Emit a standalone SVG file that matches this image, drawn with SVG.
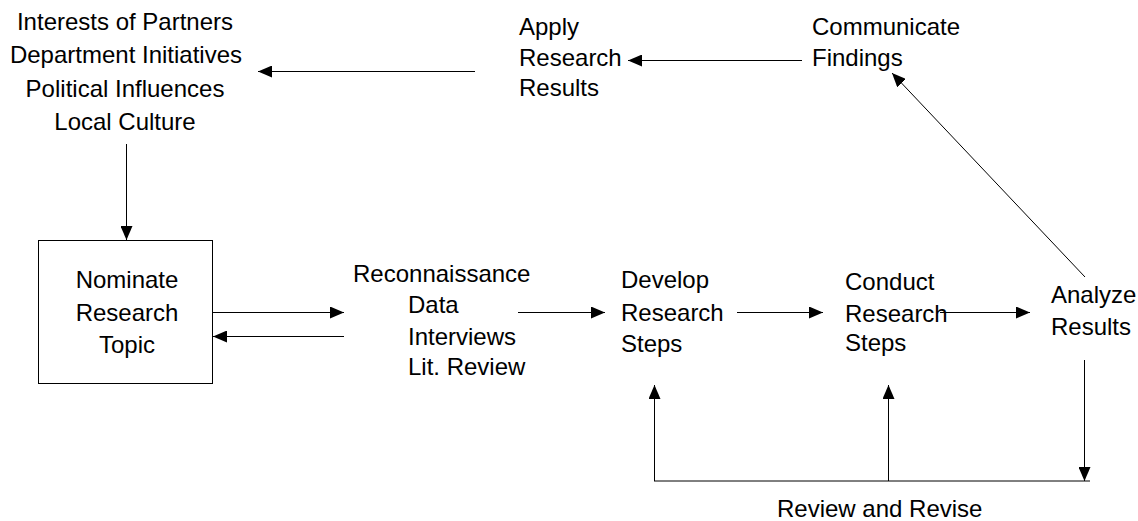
<svg xmlns="http://www.w3.org/2000/svg" width="1138" height="521" viewBox="0 0 1138 521">
<style>
text{font-family:"Liberation Sans",Arial,sans-serif;font-size:24px;fill:#000}
.c{text-anchor:middle}
.ln{stroke:#000;stroke-width:1;fill:none}
.box{fill:#fff;stroke:#000;stroke-width:1}
</style>
<defs>
<marker id="ah" markerUnits="userSpaceOnUse" markerWidth="14" markerHeight="12" refX="14" refY="6" orient="auto">
<path d="M0,0 L14,6 L0,12 z" fill="#000"/>
</marker>
</defs>
<rect width="1138" height="521" fill="#fff"/>
<g id="influences">
<text class="c" x="125" y="30">Interests of Partners</text>
<text class="c" x="126" y="63">Department Initiatives</text>
<text class="c" x="125" y="97">Political Influences</text>
<text class="c" x="125" y="130">Local Culture</text>
</g>
<g id="apply">
<text x="519" y="35">Apply</text>
<text x="519" y="66">Research</text>
<text x="519" y="96">Results</text>
</g>
<g id="communicate">
<text x="812" y="35">Communicate</text>
<text x="812" y="66">Findings</text>
</g>
<g id="nominate">
<rect class="box" x="38.5" y="240.5" width="174" height="143"/>
<text class="c" x="127" y="288">Nominate</text>
<text class="c" x="127" y="321">Research</text>
<text class="c" x="127" y="353">Topic</text>
</g>
<g id="reconnaissance">
<text x="353" y="282">Reconnaissance</text>
<text x="408" y="313">Data</text>
<text x="408" y="345">Interviews</text>
<text x="408" y="375">Lit. Review</text>
</g>
<g id="develop">
<text x="621" y="288">Develop</text>
<text x="621" y="321">Research</text>
<text x="621" y="352">Steps</text>
</g>
<g id="conduct">
<text x="845" y="290">Conduct</text>
<text x="845" y="322">Research</text>
<text x="845" y="351">Steps</text>
</g>
<g id="analyze">
<text x="1051" y="303">Analyze</text>
<text x="1051" y="335">Results</text>
</g>
<g id="review">
<text x="777" y="517">Review and Revise</text>
</g>
<g id="connectors">
<path class="ln" d="M475,71.5 L258,71.5" marker-end="url(#ah)"/>
<path class="ln" d="M802,60.5 L628,60.5" marker-end="url(#ah)"/>
<path class="ln" d="M1085,277 L892,73" marker-end="url(#ah)"/>
<path class="ln" d="M126.5,144 L126.5,240" marker-end="url(#ah)"/>
<path class="ln" d="M213,312.5 L344,312.5" marker-end="url(#ah)"/>
<path class="ln" d="M344,336.5 L213,336.5" marker-end="url(#ah)"/>
<path class="ln" d="M518,312.5 L605,312.5" marker-end="url(#ah)"/>
<path class="ln" d="M737,312.5 L823,312.5" marker-end="url(#ah)"/>
<path class="ln" d="M940,312.5 L1030,312.5" marker-end="url(#ah)"/>
<path class="ln" d="M1084.5,360 L1084.5,481" marker-end="url(#ah)"/>
<path class="ln" d="M654,481 L1090,481"/>
<path class="ln" d="M654.5,481 L654.5,385" marker-end="url(#ah)"/>
<path class="ln" d="M888.5,481 L888.5,385" marker-end="url(#ah)"/>
</g>
</svg>
